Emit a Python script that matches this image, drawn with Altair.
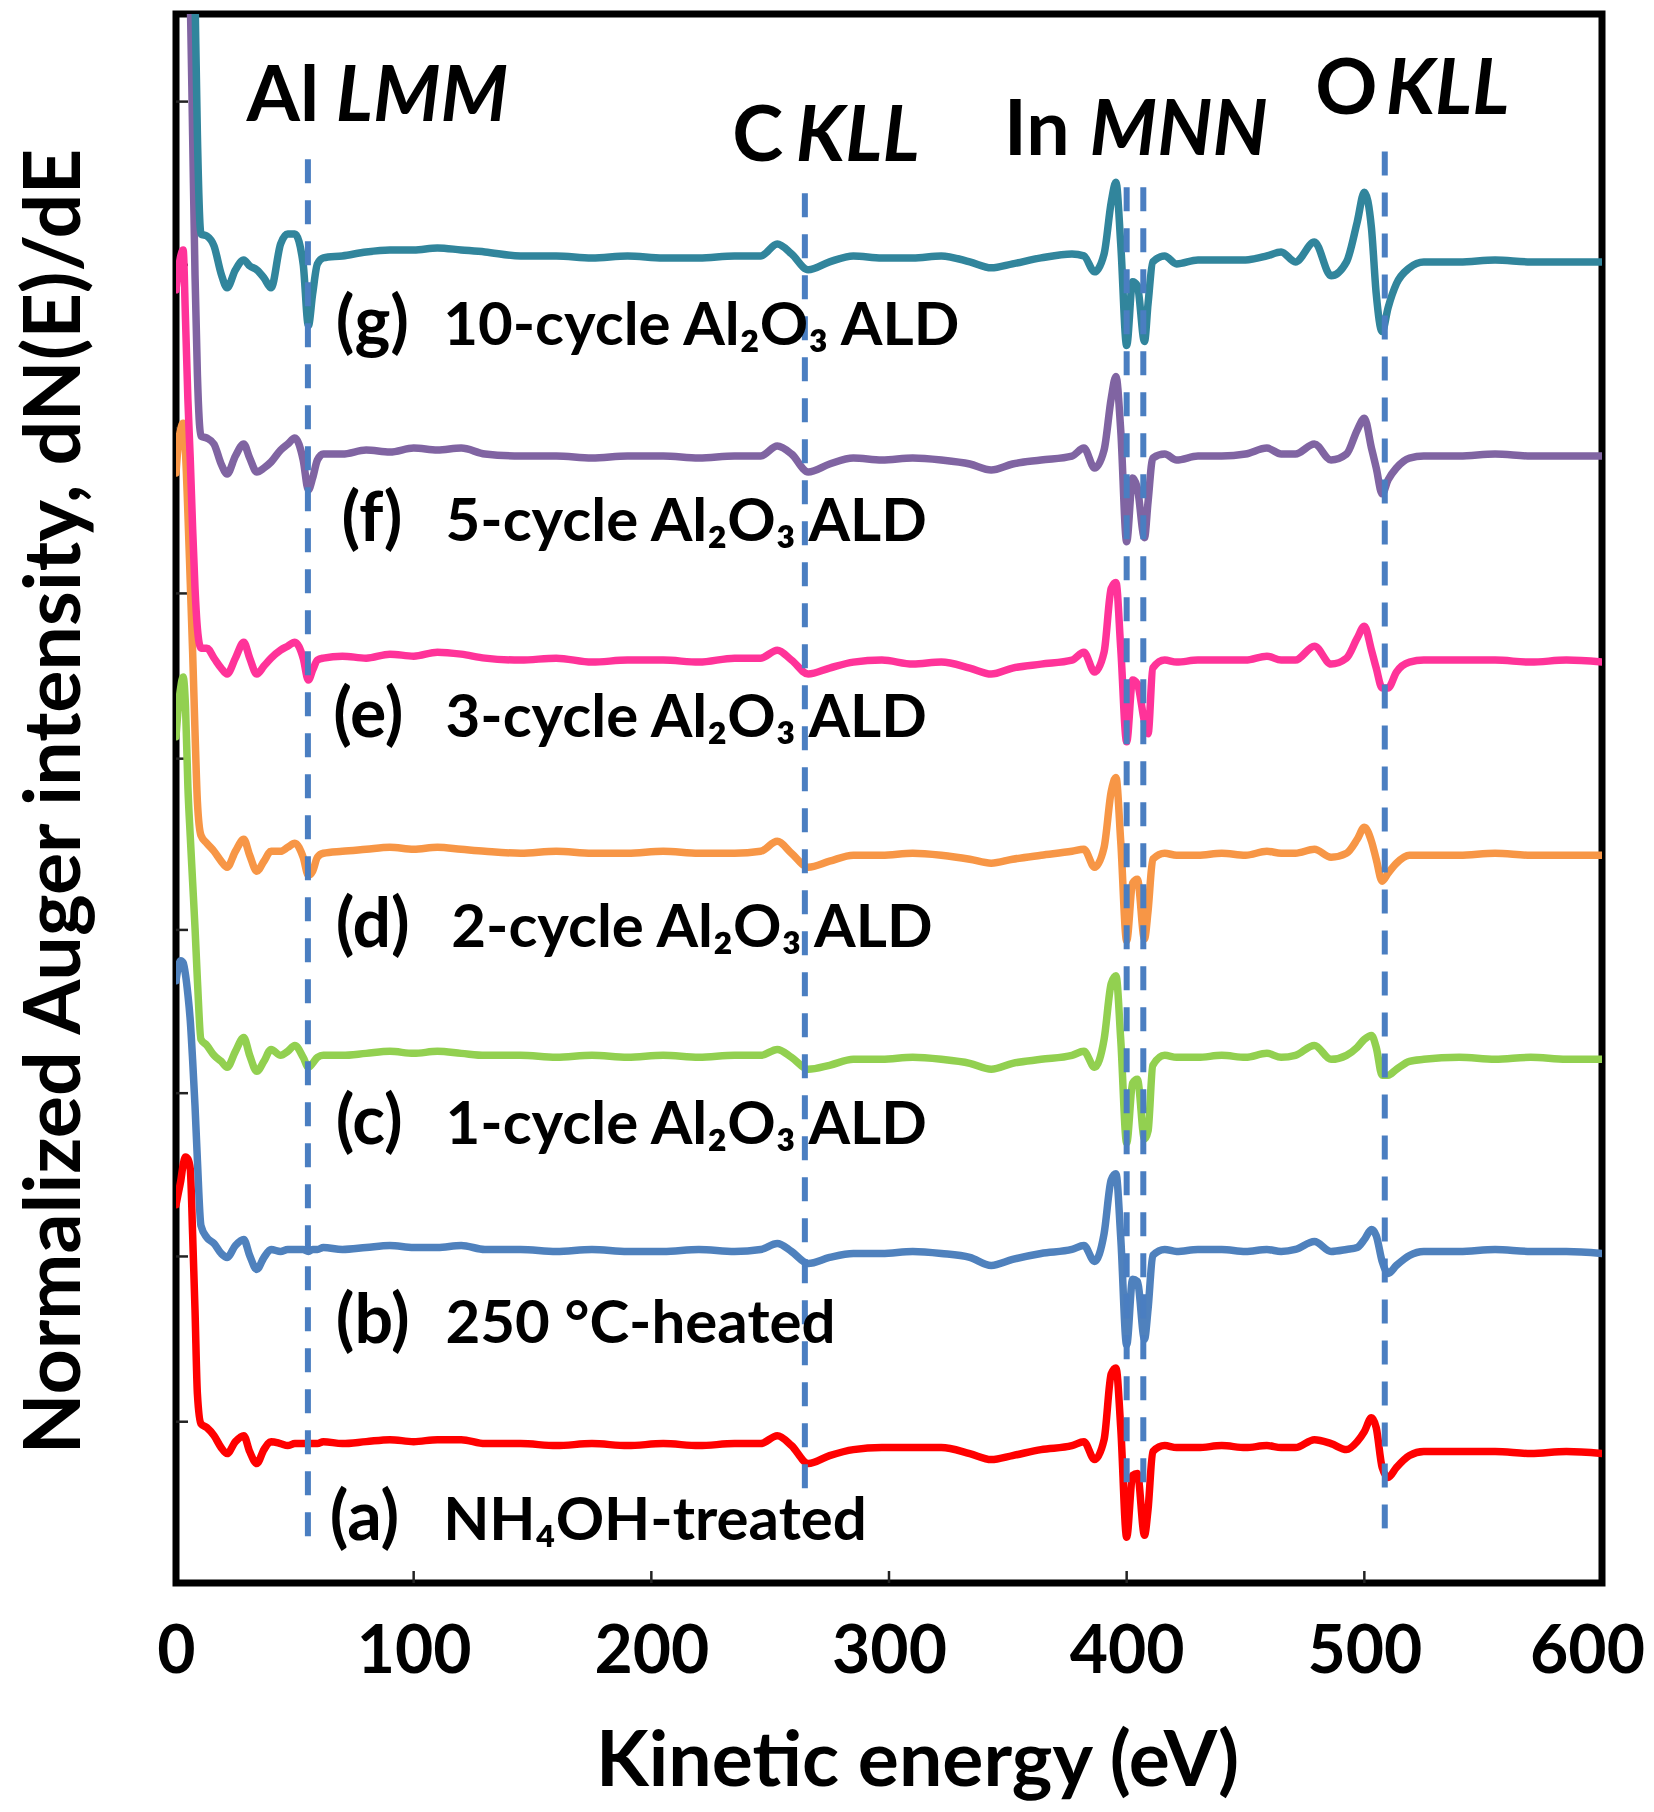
import altair as alt
import pandas as pd

# ---------------- data ----------------
energy = [0, 1, 2, 3, 4, 5, 6, 7, 8, 9,
          10.5, 13, 16, 19, 21.5, 25, 28.5, 31, 34, 37,
          40, 44, 47, 50, 53.5, 55.7, 57.5, 59.5, 62, 70,
          80, 90, 100, 110, 120, 130, 145, 160, 175, 190,
          205, 220, 235, 246, 253, 259, 266, 275, 285, 297,
          310, 322, 334, 343, 352, 364, 377, 382, 386.5, 390.5,
          393.5, 395.5, 397.5, 400, 402.5, 404.5, 407.5, 409, 411, 416,
          421, 430, 440, 450, 459, 465, 471, 479, 486, 492.5,
          497, 500, 503, 505, 507.5, 510, 513.5, 519, 525, 540,
          555, 570, 585, 600]

a_nh4oh = [1.20, 1.26, 1.32, 1.40, 1.44, 1.43, 1.38, 1.05, 0.67, 0.25,
           0.10, 0.08, 0.04, -0.02, -0.05, 0.01, 0.04, -0.04, -0.10, -0.03,
           0.01, 0.0, -0.01, 0.0, 0.0, 0.0, 0.0, 0.0, 0.01, 0.0,
           0.01, 0.02, 0.01, 0.02, 0.02, 0.0, 0.0, -0.01, 0.0, -0.01,
           0.0, -0.01, 0.0, 0.0, 0.04, -0.01, -0.10, -0.06, -0.03, -0.02,
           -0.02, -0.02, -0.05, -0.08, -0.06, -0.03, -0.01, 0.01, -0.08, 0.02,
           0.35, 0.38, 0.08, -0.47, -0.16, -0.15, -0.46, -0.33, -0.04, -0.01,
           -0.02, -0.02, -0.01, -0.02, -0.01, -0.02, -0.02, 0.02, 0.0, -0.03,
           0.01, 0.06, 0.13, 0.08, -0.12, -0.17, -0.12, -0.06, -0.04, -0.04,
           -0.04, -0.05, -0.04, -0.05]

b_heated = [1.35, 1.42, 1.45, 1.44, 1.38, 1.28, 1.15, 0.95, 0.72, 0.45,
            0.12, 0.06, 0.03, -0.02, -0.04, 0.02, 0.05, -0.03, -0.10, -0.04,
            0.0, -0.01, 0.0, 0.0, 0.0, -0.01, 0.0, 0.0, 0.01, 0.0,
            0.01, 0.02, 0.01, 0.01, 0.02, 0.0, 0.0, -0.01, 0.0, -0.01,
            -0.01, 0.0, -0.01, 0.0, 0.03, -0.01, -0.07, -0.04, -0.02, -0.02,
            -0.01, -0.02, -0.04, -0.08, -0.05, -0.02, 0.0, 0.02, -0.06, 0.08,
            0.35, 0.38, 0.06, -0.48, -0.15, -0.16, -0.45, -0.30, -0.03, 0.0,
            -0.01, 0.0, 0.0, -0.01, 0.0, -0.01, 0.0, 0.04, -0.01, 0.0,
            0.01, 0.05, 0.10, 0.07, -0.06, -0.12, -0.08, -0.03, -0.01, -0.01,
            0.0, -0.01, -0.01, -0.02]

c_1cycle = [1.6, 1.75, 1.85, 1.9, 1.75, 1.35, 1.1, 0.87, 0.64, 0.38,
            0.08, 0.05, 0.0, -0.03, -0.06, 0.02, 0.09, 0.0, -0.08, -0.03,
            0.03, 0.0, 0.02, 0.05, -0.01, -0.06, -0.04, -0.01, 0.0, 0.0,
            0.01, 0.02, 0.01, 0.02, 0.01, 0.0, 0.0, -0.01, 0.0, -0.01,
            0.0, -0.01, 0.0, 0.0, 0.03, -0.01, -0.07, -0.05, -0.02, -0.02,
            -0.01, -0.02, -0.04, -0.07, -0.04, -0.02, 0.0, 0.02, -0.06, 0.08,
            0.36, 0.40, 0.08, -0.44, -0.14, -0.12, -0.42, -0.38, -0.05, 0.0,
            -0.01, -0.01, 0.0, -0.01, 0.01, -0.01, 0.0, 0.05, -0.02, 0.0,
            0.04, 0.08, 0.10, 0.04, -0.10, -0.10, -0.07, -0.03, -0.02, -0.01,
            -0.02, -0.01, -0.02, -0.02]

d_2cycle = [1.9, 2.05, 2.12, 2.15, 2.0, 1.7, 1.35, 1.0, 0.6, 0.25,
            0.08, 0.04, 0.0, -0.05, -0.08, 0.0, 0.06, -0.02, -0.10, -0.05,
            0.0, 0.0, 0.02, 0.04, -0.03, -0.12, -0.10, -0.03, -0.01, 0.0,
            0.01, 0.02, 0.01, 0.02, 0.01, 0.0, -0.01, 0.0, -0.01, -0.01,
            0.0, -0.01, -0.01, 0.0, 0.05, -0.01, -0.08, -0.05, -0.02, -0.02,
            -0.01, -0.02, -0.04, -0.06, -0.04, -0.02, 0.0, 0.01, -0.08, 0.02,
            0.30, 0.37, 0.05, -0.45, -0.16, -0.14, -0.44, -0.30, -0.04, -0.01,
            -0.02, -0.02, -0.01, -0.02, 0.0, -0.01, -0.01, 0.01, -0.03, -0.01,
            0.06, 0.12, 0.05, -0.04, -0.15, -0.11, -0.06, -0.02, -0.02, -0.02,
            -0.01, -0.02, -0.02, -0.02]

e_3cycle = [1.85, 1.95, 2.02, 2.05, 1.7, 1.3, 1.0, 0.65, 0.35, 0.15,
            0.05, 0.05, 0.0, -0.05, -0.08, 0.0, 0.08, 0.0, -0.08, -0.04,
            0.0, 0.04, 0.06, 0.08, 0.0, -0.11, -0.06, -0.01, 0.0, 0.01,
            0.0, 0.02, 0.01, 0.03, 0.02, 0.0, -0.01, 0.0, -0.02, -0.01,
            -0.01, -0.02, 0.0, 0.0, 0.04, -0.01, -0.08, -0.05, -0.02, -0.01,
            -0.03, -0.02, -0.05, -0.08, -0.05, -0.03, -0.01, 0.03, -0.07, 0.03,
            0.35, 0.38, 0.05, -0.42, -0.11, -0.13, -0.32, -0.38, -0.05, -0.01,
            -0.02, -0.01, -0.01, -0.01, 0.01, -0.01, -0.01, 0.06, -0.03, 0.0,
            0.10, 0.16, 0.04, -0.05, -0.15, -0.15, -0.07, -0.02, -0.01, -0.01,
            -0.01, -0.02, -0.01, -0.02]

f_5cycle = [2.6, 2.8, 2.9, 2.95, 2.9, 2.7, 2.3, 1.6, 0.9, 0.4,
            0.09, 0.08, 0.05, -0.05, -0.10, -0.01, 0.05, -0.02, -0.09, -0.07,
            -0.04, 0.02, 0.05, 0.08, -0.03, -0.18, -0.12, -0.03, 0.0, 0.0,
            0.02, 0.01, 0.03, 0.02, 0.03, 0.0, -0.01, -0.01, -0.02, -0.01,
            -0.01, -0.02, -0.01, -0.01, 0.04, 0.0, -0.09, -0.05, -0.02, -0.03,
            -0.02, -0.03, -0.05, -0.08, -0.05, -0.03, -0.01, 0.03, -0.07, 0.02,
            0.28, 0.39, 0.12, -0.44, -0.12, -0.17, -0.42, -0.24, -0.02, 0.0,
            -0.03, -0.01, -0.01, 0.0, 0.03, 0.0, 0.0, 0.05, -0.03, 0.0,
            0.12, 0.18, 0.03, -0.07, -0.20, -0.13, -0.07, -0.02, -0.01, -0.01,
            0.0, -0.01, -0.01, -0.01]

g_10cycle = [3.6, 3.6, 3.5, 3.4, 3.2, 2.9, 2.6, 2.0, 1.3, 0.6,
             0.10, 0.09, 0.04, -0.10, -0.17, -0.08, -0.03, -0.06, -0.08, -0.12,
             -0.17, 0.05, 0.10, 0.10, -0.05, -0.36, -0.20, -0.05, -0.02, -0.01,
             0.01, 0.02, 0.02, 0.03, 0.02, 0.01, -0.01, -0.01, -0.02, -0.01,
             -0.02, -0.02, -0.01, -0.01, 0.05, 0.0, -0.08, -0.04, -0.01, -0.02,
             -0.02, -0.01, -0.04, -0.07, -0.05, -0.02, 0.0, -0.01, -0.09, 0.0,
             0.26, 0.36, 0.05, -0.46, -0.14, -0.16, -0.44, -0.25, -0.04, -0.01,
             -0.05, -0.03, -0.03, -0.03, -0.01, 0.01, -0.04, 0.06, -0.11, -0.04,
             0.16, 0.31, 0.13, -0.20, -0.39, -0.27, -0.15, -0.07, -0.04, -0.04,
             -0.03, -0.04, -0.04, -0.04]

series_names = ["a", "b", "c", "d", "e", "f", "g"]
series_values = [a_nh4oh, b_heated, c_1cycle, d_2cycle, e_3cycle, f_5cycle, g_10cycle]
series_offsets = [0.0, 0.975, 1.95, 2.975, 3.945, 4.97, 5.975]
series_colors = ["#FF0000", "#4F81BD", "#92D050", "#F79646", "#FF3399", "#8064A2", "#31859C"]

label_prefix = ["(a)", "(b)", "(c)", "(d)", "(e)", "(f)", "(g)"]
label_main = ["NH\u2084OH-treated", "250 \u00b0C-heated", "1-cycle Al\u2082O\u2083 ALD",
              "2-cycle Al\u2082O\u2083 ALD", "3-cycle Al\u2082O\u2083 ALD",
              "5-cycle Al\u2082O\u2083 ALD", "10-cycle Al\u2082O\u2083 ALD"]
label_y = [-0.483, 0.506, 1.506, 2.494, 3.547, 4.535, 5.52]
prefix_x = [64.7, 67.2, 67.2, 67.2, 66.2, 69.6, 67.2]
main_x = [112.4, 113.4, 113.4, 115.8, 113.4, 113.4, 112.4]

peak_element = ["Al", "C", "In", "O"]
peak_transition = ["LMM", "KLL", "MNN", "KLL"]
peak_element_x = [29.7, 234.0, 348.4, 479.3]
peak_transition_x = [67.2, 260.8, 384.4, 509.0]
peak_label_y = [6.645, 6.44, 6.47, 6.68]

dash_x = [55.5, 264.6, 400.0, 407.0, 508.6]
dash_top = [6.45, 6.28, 6.31, 6.31, 6.49]
dash_bottom = [-0.49, -0.29, -0.24, -0.24, -0.44]

x_tick_labels = [0, 100, 200, 300, 400, 500, 600]
x_ticks = [100, 200, 300, 400, 500]
y_ticks = [6.74, 5.92, 5.10, 4.27, 3.44, 2.58, 1.76, 0.94, 0.11]

# ---------------- tables ----------------
rows = []
for name, vals, off in zip(series_names, series_values, series_offsets):
    assert len(vals) == len(energy), name
    for e, v in zip(energy, vals):
        rows.append({"series": name, "energy": e, "signal": off + v})
spectra = pd.DataFrame(rows)

labels_prefix_df = pd.DataFrame({"energy": prefix_x, "signal": label_y, "text": label_prefix})
labels_main_df = pd.DataFrame({"energy": main_x, "signal": label_y, "text": label_main})
peak_el_df = pd.DataFrame({"energy": peak_element_x, "signal": peak_label_y, "text": peak_element})
peak_tr_df = pd.DataFrame({"energy": peak_transition_x, "signal": peak_label_y, "text": peak_transition})
dash_df = pd.DataFrame({"energy": dash_x, "signal": dash_top, "signal2": dash_bottom})
xt_df = pd.DataFrame({"energy": x_ticks})
yt_df = pd.DataFrame({"signal": y_ticks})

FONT = "Lato"
xs = alt.Scale(domain=[0, 600], nice=False, zero=False)
ys = alt.Scale(domain=[-0.70, 7.18], nice=False, zero=False)

x_axis = alt.Axis(values=x_tick_labels, ticks=False, tickSize=0, domain=False,
                  grid=False, labelFont=FONT, labelFontSize=66, labelFontWeight="bold",
                  labelColor="black", labelPadding=89, labelBaseline="alphabetic",
                  labelFlush=False, labelOverlap=False,
                  labelOffset={"condition": {"test": "datum.value >= 600", "value": -15}, "value": 0},
                  titleFont=FONT, titleFontSize=77, titleFontWeight="bold", titleColor="black",
                  titleX=741, titleY=202, titleBaseline="alphabetic", titleAnchor="start",
                  titleAlign="center")
y_axis = alt.Axis(labels=False, ticks=False, tickSize=0, domain=False, grid=False,
                  titleFont=FONT, titleFontSize=79, titleFontWeight="bold", titleColor="black",
                  titleX=-97, titleY=787, titleBaseline="alphabetic", titleAngle=270,
                  titleAlign="center", titleAnchor="start")

XT = "Kinetic energy (eV)"
YT = "Normalized Auger intensity, dN(E)/dE"


def X(field="energy"):
    return alt.X(f"{field}:Q", scale=xs, axis=x_axis, title=XT)


def Y(field="signal"):
    return alt.Y(f"{field}:Q", scale=ys, axis=y_axis, title=YT)


lines = alt.Chart(spectra).mark_line(
    clip=True, strokeWidth=7.5, interpolate="monotone", strokeJoin="round", strokeCap="round"
).encode(
    x=X(), y=Y(),
    color=alt.Color("series:N", scale=alt.Scale(domain=series_names, range=series_colors), legend=None),
    detail="series:N",
)

dashes = alt.Chart(dash_df).mark_rule(
    color="#4A7EC1", strokeWidth=6, strokeDash=[24, 17]
).encode(x=X(), y=Y(), y2="signal2:Q")

xticks = alt.Chart(xt_df).mark_rule(color="#222222", strokeWidth=2.5).encode(
    x=X(), y=alt.value(1569), y2=alt.value(1557))
yticks = alt.Chart(yt_df).mark_rule(color="#222222", strokeWidth=2.5).encode(
    y=Y(), x=alt.value(0), x2=alt.value(12))

prefix_text = alt.Chart(labels_prefix_df).mark_text(
    font=FONT, fontWeight="bold", fontSize=68, align="left", baseline="alphabetic", color="black"
).encode(x=X(), y=Y(), text="text:N")
main_text = alt.Chart(labels_main_df).mark_text(
    font=FONT, fontWeight="bold", fontSize=60, align="left", baseline="alphabetic", color="black"
).encode(x=X(), y=Y(), text="text:N")
peak_el_text = alt.Chart(peak_el_df).mark_text(
    font=FONT, fontWeight="bold", fontSize=77, align="left", baseline="alphabetic", color="black"
).encode(x=X(), y=Y(), text="text:N")
peak_tr_text = alt.Chart(peak_tr_df).mark_text(
    font=FONT, fontWeight="bold", fontStyle="italic", fontSize=77, align="left",
    baseline="alphabetic", color="black"
).encode(x=X(), y=Y(), text="text:N")

chart = alt.layer(
    xticks, yticks, lines, dashes, prefix_text, main_text, peak_el_text, peak_tr_text
).properties(
    width=1426, height=1569,
    autosize=alt.AutoSizeParams(type="none"),
    padding={"left": 168, "top": 6, "right": 44, "bottom": 221},
    background="white",
).configure_view(stroke="black", strokeWidth=7)

chart.save("out.html", embed_options={"renderer": "svg", "actions": False})
